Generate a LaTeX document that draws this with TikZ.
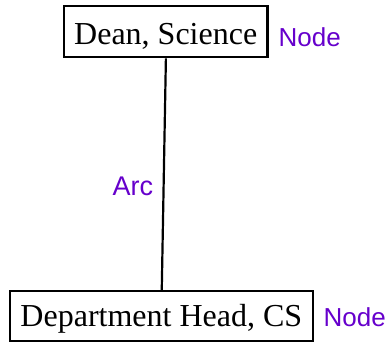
\documentclass[tikz,border=0pt]{standalone}
\usepackage{fontspec}
\setmainfont{Liberation Serif}
\newfontfamily\labelfont{Liberation Sans}
\definecolor{notecolor}{RGB}{102,0,204}
\tikzset{
  unitbox/.style={draw=black, line width=2.3pt, inner sep=0pt,
    font=\fontsize{32}{36}\selectfont},
  note/.style={inner sep=0pt, text=notecolor,
    font=\labelfont\fontsize{26}{30}\selectfont},
  link/.style={draw=black, line width=2.2pt}
}
\begin{document}
\begin{tikzpicture}[x=1pt, y=-1pt]
  \useasboundingbox (0,0) rectangle (391,342);
  % the two organisational units
  \node[unitbox, minimum width=203.3pt, minimum height=50.9pt,
        text height=25.9pt, text depth=0pt] (dean) at (165.7,31.75) {Dean, Science};
  \node[unitbox, minimum width=303.3pt, minimum height=49.7pt,
        text height=21.1pt, text depth=0pt] (head) at (161.35,316.15) {Department Head, CS};
  % reporting line between them
  \draw[link] ([xshift=0.2pt]dean.south) -- ([xshift=0.4pt]head.north);
  % annotations
  \node[note, anchor=base west] (deannote) at (278.5,46.7) {Node};
  \node[note, anchor=base west] (headnote) at (323.5,326) {Node};
  \node[note, anchor=base west, font=\labelfont\fontsize{27}{30}\selectfont] (arcnote) at (112.5,195.7) {Arc};
\end{tikzpicture}
\end{document}
